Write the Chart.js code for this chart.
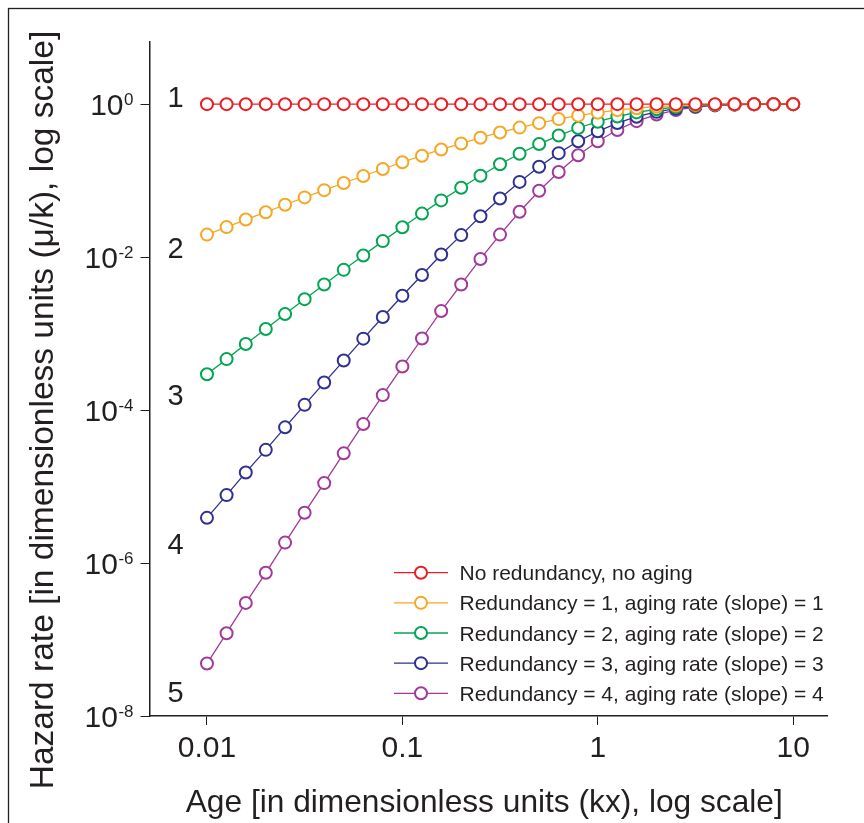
<!DOCTYPE html>
<html><head><meta charset="utf-8">
<script src="https://cdn.jsdelivr.net/npm/chart.js@4.4.1/dist/chart.umd.min.js"></script>
<style>html,body{margin:0;padding:0;background:#fff;}canvas{display:block}</style>
</head><body>
<canvas id="c" width="864" height="823"></canvas>
<script>
// ---- data ----
const ages = [0.01, 0.0126, 0.0158, 0.02, 0.0251, 0.0316, 0.0398, 0.0501, 0.0631, 0.0794,
  0.1, 0.126, 0.158, 0.2, 0.251, 0.316, 0.398, 0.501, 0.631, 0.794,
  1, 1.26, 1.58, 2, 2.51, 3.16, 3.98, 5.01, 6.31, 7.94, 10];

const seriesLabels = [
  'No redundancy, no aging',
  'Redundancy = 1, aging rate (slope) = 1',
  'Redundancy = 2, aging rate (slope) = 2',
  'Redundancy = 3, aging rate (slope) = 3',
  'Redundancy = 4, aging rate (slope) = 4'
];
const seriesColors = ['#ED1C24', '#F6A623', '#00A651', '#2E3192', '#A2399A'];

const noRedundancy = [1,1,1,1,1,1,1,1,1,1,1,1,1,1,1,1,1,1,1,1,1,1,1,1,1,1,1,1,1,1,1];
const redundancy1 = [0.0197, 0.0247, 0.031, 0.0387, 0.0484, 0.0604, 0.0751, 0.0932, 0.115, 0.142,
  0.174, 0.212, 0.256, 0.306, 0.364, 0.427, 0.494, 0.565, 0.638, 0.708,
  0.775, 0.835, 0.886, 0.927, 0.958, 0.978, 0.991, 0.997, 0.999, 1.0, 1.0];
const redundancy2 = [2.94e-4, 4.64e-4, 7.30e-4, 1.15e-3, 1.80e-3, 2.82e-3, 4.39e-3, 6.82e-3, 0.0105, 0.0162,
  0.0246, 0.0371, 0.0552, 0.0809, 0.116, 0.164, 0.225, 0.301, 0.389, 0.488,
  0.590, 0.690, 0.781, 0.858, 0.917, 0.957, 0.981, 0.993, 0.998, 1.0, 1.0];
const redundancy3 = [3.90e-6, 7.73e-6, 1.53e-5, 3.02e-5, 5.95e-5, 1.17e-4, 2.29e-4, 4.44e-4, 8.59e-4, 1.65e-3,
  3.12e-3, 5.84e-3, 0.0108, 0.0194, 0.0342, 0.0584, 0.0963, 0.152, 0.229, 0.327,
  0.442, 0.566, 0.686, 0.793, 0.877, 0.936, 0.972, 0.990, 0.997, 0.999, 1.0];
const redundancy4 = [4.85e-8, 1.21e-7, 3.01e-7, 7.46e-7, 1.85e-6, 4.55e-6, 1.11e-5, 2.72e-5, 6.56e-5, 1.57e-4,
  3.71e-4, 8.63e-4, 1.97e-3, 4.39e-3, 9.47e-3, 0.0197, 0.0392, 0.0738, 0.130, 0.215,
  0.327, 0.460, 0.600, 0.731, 0.838, 0.915, 0.963, 0.987, 0.996, 0.999, 1.0];

const xTickValues = [0.01, 0.1, 1, 10];
const xTickLabels = ['0.01', '0.1', '1', '10'];
const yTickValues = [1e-8, 1e-6, 1e-4, 1e-2, 1];
const yTickExponents = ['-8', '-6', '-4', '-2', '0'];

const curveTags = ['1', '2', '3', '4', '5'];
const curveTagX = 0.0069;
const curveTagY = [0.914, 9.65e-3, 1.15e-4, 1.33e-6, 1.53e-8];

const xTitle = 'Age [in dimensionless units (kx), log scale]';
const yTitle = 'Hazard rate [in dimensionless units (\u03bc/k), log scale]';

// ---- chart ----
const INK = '#231f20';
const FONT = '"Liberation Sans", Arial, Helvetica, sans-serif';
const allSeries = [noRedundancy, redundancy1, redundancy2, redundancy3, redundancy4];

const datasets = allSeries.map((vals, i) => ({
  label: seriesLabels[i],
  data: vals.map((v, j) => ({x: ages[j], y: v})),
  borderColor: seriesColors[i],
  backgroundColor: '#ffffff',
  pointBackgroundColor: '#ffffff',
  pointBorderColor: seriesColors[i],
  pointRadius: 6,
  pointBorderWidth: 2,
  borderWidth: 1.3,
  tension: 0,
  clip: false
}));

const decor = {
  id: 'decor',
  beforeDraw(chart) {
    const ctx = chart.ctx;
    ctx.save();
    ctx.fillStyle = '#fff';
    ctx.fillRect(0, 0, chart.width, chart.height);
    ctx.strokeStyle = INK;
    ctx.lineWidth = 1.3;
    ctx.strokeRect(8.5, 8.5, chart.width + 20, chart.height + 20);
    ctx.restore();
  },
  afterDraw(chart) {
    const ctx = chart.ctx;
    const xs = chart.scales.x, ys = chart.scales.y, ca = chart.chartArea;
    ctx.save();
    ctx.fillStyle = INK;
    // x tick labels
    ctx.font = '30px ' + FONT;
    ctx.textAlign = 'center';
    ctx.textBaseline = 'alphabetic';
    xTickValues.forEach((v, i) => {
      ctx.fillText(xTickLabels[i], xs.getPixelForValue(v), ca.bottom + 41);
    });
    // y tick labels 10^e
    yTickValues.forEach((v, i) => {
      const py = ys.getPixelForValue(v);
      const supRight = ca.left - 16;
      ctx.font = '17px ' + FONT;
      ctx.textAlign = 'right';
      ctx.fillText(yTickExponents[i], supRight, py + 1);
      const w = ctx.measureText(yTickExponents[i]).width;
      ctx.font = '30px ' + FONT;
      ctx.fillText('10', supRight - w - 0.5, py + 11);
    });
    // curve tags
    ctx.font = '29px ' + FONT;
    ctx.textAlign = 'center';
    curveTags.forEach((t, i) => {
      ctx.fillText(t, xs.getPixelForValue(curveTagX), ys.getPixelForValue(curveTagY[i]));
    });
    // axis titles
    ctx.font = '31.7px ' + FONT;
    ctx.textAlign = 'center';
    ctx.fillText(xTitle, (ca.left + ca.right) / 2 - 4, ca.bottom + 96);
    ctx.save();
    ctx.font = '33.5px ' + FONT;
    ctx.translate(ca.left - 97, (ca.top + ca.bottom) / 2 + 31);
    ctx.rotate(-Math.PI / 2);
    ctx.fillText(yTitle, 0, 0);
    ctx.restore();
    // legend
    const lx0 = 394, lx1 = 448, lcx = 421, ltx = 459.5, ly0 = 572.7, lstep = 30.15;
    chart.data.datasets.forEach((ds, i) => {
      const cy = ly0 + i * lstep;
      ctx.strokeStyle = ds.borderColor;
      ctx.lineWidth = 1.3;
      ctx.beginPath(); ctx.moveTo(lx0, cy); ctx.lineTo(lx1, cy); ctx.stroke();
      ctx.fillStyle = '#fff';
      ctx.lineWidth = 2;
      ctx.beginPath(); ctx.arc(lcx, cy, 6, 0, Math.PI * 2); ctx.fill(); ctx.stroke();
      ctx.fillStyle = INK;
      ctx.font = '21px ' + FONT;
      ctx.textAlign = 'left';
      ctx.fillText(ds.label, ltx, cy + 7.5);
    });
    ctx.restore();
  }
};

new Chart(document.getElementById('c'), {
  type: 'line',
  data: { datasets },
  options: {
    responsive: false,
    animation: false,
    devicePixelRatio: 1,
    layout: { padding: { top: 42, right: 37, left: 0, bottom: 0 } },
    plugins: { legend: { display: false }, tooltip: { enabled: false } },
    scales: {
      x: {
        type: 'logarithmic', min: 0.00508, max: 14.9,
        afterBuildTicks: s => { s.ticks = xTickValues.map(v => ({ value: v })); },
        afterFit: s => { s.height = 107; },
        ticks: { display: false },
        grid: { drawOnChartArea: false, drawTicks: true, tickLength: 9, color: INK, lineWidth: 1 },
        border: { display: true, color: INK, width: 1.5 }
      },
      y: {
        type: 'logarithmic', min: 1e-8, max: 6.5,
        afterBuildTicks: s => { s.ticks = yTickValues.map(v => ({ value: v })); },
        afterFit: s => { s.width = 149.5; },
        ticks: { display: false },
        grid: { drawOnChartArea: false, drawTicks: true, tickLength: 9, color: INK, lineWidth: 1 },
        border: { display: true, color: INK, width: 1.5 }
      }
    }
  },
  plugins: [decor]
});
</script>
</body></html>
